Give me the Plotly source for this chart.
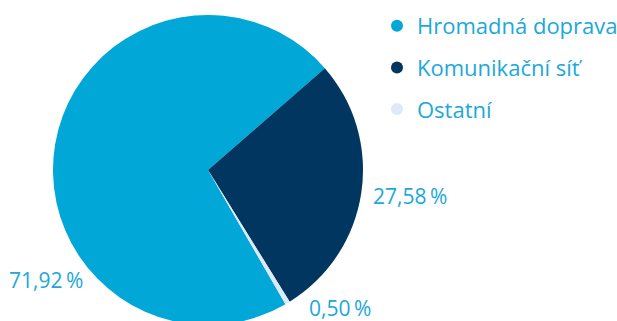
import plotly.graph_objects as go

# Share of spending by category (percent)
categories = ["Hromadná doprava", "Komunikační síť", "Ostatní"]
shares = [71.92, 27.58, 0.50]
colors = ["#00a7d7", "#003660", "#dde9f7"]

label_color = "#1ba8da"
font_family = "'Open Sans', Lato, sans-serif"

W, H = 617, 330
cx, cy, r = 208, 170, 155  # pie centre and radius in px

fig = go.Figure()

fig.add_trace(go.Pie(
    labels=categories,
    values=shares,
    marker=dict(colors=colors, line=dict(width=0)),
    sort=False,
    direction="clockwise",
    rotation=150,
    textinfo="none",
    hoverinfo="label+percent",
    showlegend=False,
    domain=dict(x=[(cx - r) / W, (cx + r) / W],
                y=[1 - (cy + r) / H, 1 - (cy - r) / H]),
))

# Legend entries with round markers
for i, (name, col) in enumerate(zip(categories, colors)):
    fig.add_trace(go.Scatter(
        x=[None], y=[None], mode="markers", name=name,
        legendgroup=f"g{i}",
        marker=dict(color=col, size=12, symbol="circle"),
    ))

def fmt(v):
    return f"{v:.2f}".replace(".", ",") + "\u2009%"

# Value labels placed outside the slices
label_pos = [(7, 280, "left"), (371, 196, "left"), (307, 308, "left")]
for v, (px, py, anchor) in zip(shares, label_pos):
    fig.add_annotation(
        x=px / W, y=1 - py / H, xref="paper", yref="paper",
        text=fmt(v), showarrow=False, xanchor=anchor, yanchor="middle",
        font=dict(family=font_family, size=21, color=label_color),
    )

fig.update_layout(
    width=W, height=H,
    margin=dict(l=0, r=0, t=0, b=0, autoexpand=False),
    paper_bgcolor="white", plot_bgcolor="white",
    xaxis=dict(visible=False), yaxis=dict(visible=False),
    legend=dict(
        x=377 / W, y=1 - 5 / H, xanchor="left", yanchor="top",
        font=dict(family=font_family, size=22, color=label_color),
        traceorder="grouped", tracegroupgap=10,
        bgcolor="rgba(0,0,0,0)",
    ),
)

fig.write_html("out.html")
